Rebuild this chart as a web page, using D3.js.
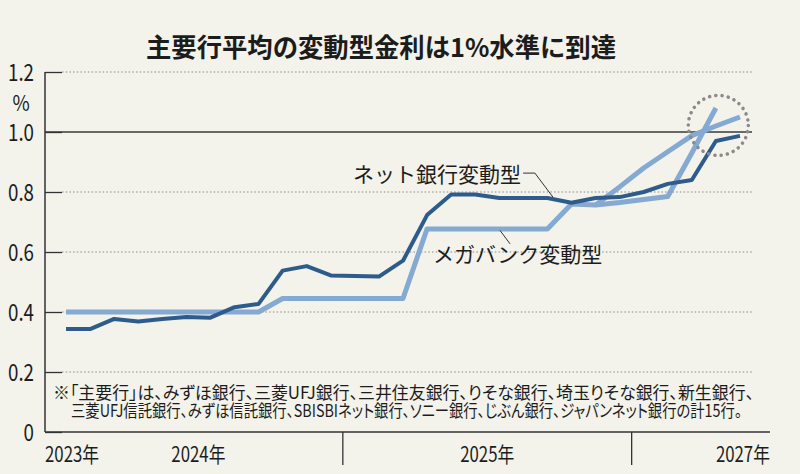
<!DOCTYPE html>
<html>
<head>
<meta charset="utf-8">
<script src="https://cdn.jsdelivr.net/npm/d3@7"></script>
<style>
  body { margin: 0; background: #f3f2eb; }
  svg { display: block; }
  text { font-family: 'Noto Sans CJK JP', 'Noto Sans', sans-serif; fill: #1c1c1c; }
  .note { font-feature-settings: 'palt'; }
</style>
</head>
<body>
<div class="chart"></div>
<script>
// monthly points, Jan 2024 .. May 2026
const months = [
	'2024-01','2024-02','2024-03','2024-04','2024-05','2024-06','2024-07','2024-08','2024-09','2024-10','2024-11','2024-12',
	'2025-01','2025-02','2025-03','2025-04','2025-05','2025-06','2025-07','2025-08','2025-09','2025-10','2025-11','2025-12',
	'2026-01','2026-02','2026-03','2026-04','2026-05'
]

// ネット銀行変動型 (dark)
const netBank = [0.343, 0.343, 0.377, 0.368, 0.377, 0.383, 0.381, 0.416, 0.427, 0.538, 0.553, 0.522,
	0.520, 0.518, 0.571, 0.723, 0.792, 0.792, 0.780, 0.780, 0.780, 0.764, 0.780, 0.783,
	0.800, 0.827, 0.840, 0.970, 0.987]

// メガバンク変動型 (light), ends Apr 2026
const megaBank = [0.40, 0.40, 0.40, 0.40, 0.40, 0.40, 0.40, 0.40, 0.40, 0.445, 0.445, 0.445,
	0.445, 0.445, 0.445, 0.677, 0.677, 0.677, 0.677, 0.677, 0.677, 0.760, 0.757, 0.765,
	0.775, 0.785, 0.930, 1.080]

// second light branch, from Nov 2025
const megaBranchMonths = ['2025-11','2025-12','2026-01','2026-02','2026-03','2026-04','2026-05']
const megaBranch = [0.757, 0.817, 0.880, 0.934, 0.988, 1.020, 1.050]

const yTicks = [0, 0.2, 0.4, 0.6, 0.8, 1.0, 1.2]
const yearLabels = ['2023年', '2024年', '2025年', '2027年']
const title = '主要行平均の変動型金利は1%水準に到達'
const notes = [
	'※「主要行」は、みずほ銀行、三菱UFJ銀行、三井住友銀行、りそな銀行、埼玉りそな銀行、新生銀行、',
	'三菱UFJ信託銀行、みずほ信託銀行、SBISBIネット銀行、ソニー銀行、じぶん銀行、ジャパンネット銀行の計15行。'
]

const W = 800, H = 474
const mLeft = 45, mRight = 752, mTop = 72, mBottom = 432

const svg = d3.select('.chart')
	.append('svg')
	.attr('width', W)
	.attr('height', H)

svg.append('rect').attr('width', W).attr('height', H).attr('fill', '#f3f2eb')

const x = d3.scaleBand()
	.domain(months)
	.range([54, mRight])
const bw = x.bandwidth()
const xm = m => x(m) + bw / 2
// fractional month index -> px, for annotations
const xi = d3.scaleLinear()
	.domain([0, months.length - 1])
	.range([xm(months[0]), xm(months[months.length - 1])])

const y = d3.scaleLinear()
	.domain([0, 1.2])
	.range([mBottom, mTop])

// squeeze text horizontally (reference uses a condensed face)
function condense(sel, k) {
	sel.each(function() {
		const w = this.getComputedTextLength()
		d3.select(this).attr('textLength', w * k).attr('lengthAdjust', 'spacingAndGlyphs')
	})
}

// gridlines
svg.append('g').selectAll('line')
	.data(yTicks.filter(d => d > 0))
	.enter()
	.append('line')
	.attr('x1', d => d === 1.0 ? mLeft : mLeft + 17)
	.attr('x2', mRight)
	.attr('y1', d => y(d))
	.attr('y2', d => y(d))
	.attr('stroke', d => d === 1.0 ? '#3a3a3a' : '#8a8a8a')
	.attr('stroke-width', d => d === 1.0 ? 1.3 : 1.2)
	.attr('stroke-dasharray', d => d === 1.0 ? null : '1.5,2.2')

// y axis
const yAxis = d3.axisRight(y)
	.tickValues(yTicks)
	.tickSize(17)
	.tickFormat(d => d === 0 ? '0' : d3.format('.1f')(d))

const gy = svg.append('g')
	.attr('transform', `translate(${mLeft},0)`)
	.call(yAxis)
gy.select('.domain').remove()
gy.attr('font-family', null).attr('font-size', null)
gy.selectAll('.tick line').attr('stroke', '#333').attr('stroke-width', 1.3)
gy.selectAll('.tick text')
	.attr('x', -11)
	.attr('text-anchor', 'end')
	.attr('dy', '0.36em')
	.attr('font-size', 24)
	.attr('fill', '#1c1c1c')
	.call(condense, 0.78)

svg.append('line')
	.attr('x1', mLeft).attr('x2', mLeft)
	.attr('y1', mTop).attr('y2', mBottom)
	.attr('stroke', '#333').attr('stroke-width', 1.5)

svg.append('text')
	.attr('x', 21)
	.attr('y', 111)
	.attr('text-anchor', 'middle')
	.attr('font-size', 22)
	.text('%')
	.call(condense, 0.85)

// x baseline and year separators
svg.append('line')
	.attr('x1', mLeft).attr('x2', 770)
	.attr('y1', mBottom).attr('y2', mBottom)
	.attr('stroke', '#333').attr('stroke-width', 1.5)

svg.append('g').selectAll('line')
	.data(['2025-01', '2026-01'])
	.enter()
	.append('line')
	.attr('x1', d => x(d)).attr('x2', d => x(d))
	.attr('y1', mBottom).attr('y2', mBottom + 33)
	.attr('stroke', '#333').attr('stroke-width', 1.3)

const yearMid = yr => {
	const ms = months.filter(m => m.startsWith(yr))
	return (x(ms[0]) + x(ms[ms.length - 1]) + bw) / 2
}
const yearPos = [
	{ x: mLeft, anchor: 'start' },
	{ x: yearMid('2024'), anchor: 'middle' },
	{ x: yearMid('2025'), anchor: 'middle' },
	{ x: 770, anchor: 'end' }
]
svg.append('g').selectAll('text')
	.data(yearLabels)
	.enter()
	.append('text')
	.attr('x', (d, i) => yearPos[i].x)
	.attr('y', 462)
	.attr('text-anchor', (d, i) => yearPos[i].anchor)
	.attr('font-size', 21)
	.text(d => d)
	.call(condense, 0.8)

// lines
const line = d3.line()
	.x(d => xm(d.m))
	.y(d => y(d.v))

svg.append('path')
	.datum(megaBank.map((v, i) => ({ m: months[i], v })))
	.attr('d', line)
	.attr('fill', 'none')
	.attr('stroke', '#84a9d2')
	.attr('stroke-width', 5)
	.attr('stroke-linejoin', 'round')

svg.append('path')
	.datum(megaBranch.map((v, i) => ({ m: megaBranchMonths[i], v })))
	.attr('d', line)
	.attr('fill', 'none')
	.attr('stroke', '#84a9d2')
	.attr('stroke-width', 5)
	.attr('stroke-linejoin', 'round')

svg.append('path')
	.datum(netBank.map((v, i) => ({ m: months[i], v })))
	.attr('d', line)
	.attr('fill', 'none')
	.attr('stroke', '#2c5b8c')
	.attr('stroke-width', 4)
	.attr('stroke-linejoin', 'round')

// dotted circle round the 1% crossing
svg.append('circle')
	.attr('cx', xi(27.1))
	.attr('cy', y(1.022))
	.attr('r', 30)
	.attr('fill', 'none')
	.attr('stroke', '#8a8a8a')
	.attr('stroke-width', 3.5)
	.attr('stroke-linecap', 'round')
	.attr('stroke-dasharray', '0.1,6.2')

// series labels + leaders
svg.append('text')
	.attr('x', xi(11.92))
	.attr('y', y(0.834))
	.attr('font-size', 21)
	.text('ネット銀行変動型')

svg.append('path')
	.attr('d', d3.line()([[xi(18.99), y(0.863)], [xi(19.48), y(0.863)], [xi(20.23), y(0.783)]]))
	.attr('fill', 'none')
	.attr('stroke', '#333')
	.attr('stroke-width', 1)

svg.append('text')
	.attr('x', xi(15.25))
	.attr('y', y(0.567))
	.attr('font-size', 21)
	.text('メガバンク変動型')

svg.append('line')
	.attr('x1', xi(18.03)).attr('y1', y(0.672))
	.attr('x2', xi(18.45)).attr('y2', y(0.627))
	.attr('stroke', '#333')
	.attr('stroke-width', 1)

// title
svg.append('text')
	.attr('x', 381)
	.attr('y', 57)
	.attr('text-anchor', 'middle')
	.attr('font-size', 26)
	.attr('font-weight', 'bold')
	.attr('textLength', 470)
	.attr('lengthAdjust', 'spacingAndGlyphs')
	.text(title)

// note
const noteX = [53, 71], noteLen = [701, 671]
svg.append('g').selectAll('text')
	.data(notes)
	.enter()
	.append('text')
	.attr('class', 'note')
	.attr('x', (d, i) => noteX[i])
	.attr('y', (d, i) => 399 + i * 17.5)
	.attr('font-size', 17.5)
	.attr('textLength', (d, i) => noteLen[i])
	.attr('lengthAdjust', 'spacingAndGlyphs')
	.text(d => d)
</script>
</body>
</html>
